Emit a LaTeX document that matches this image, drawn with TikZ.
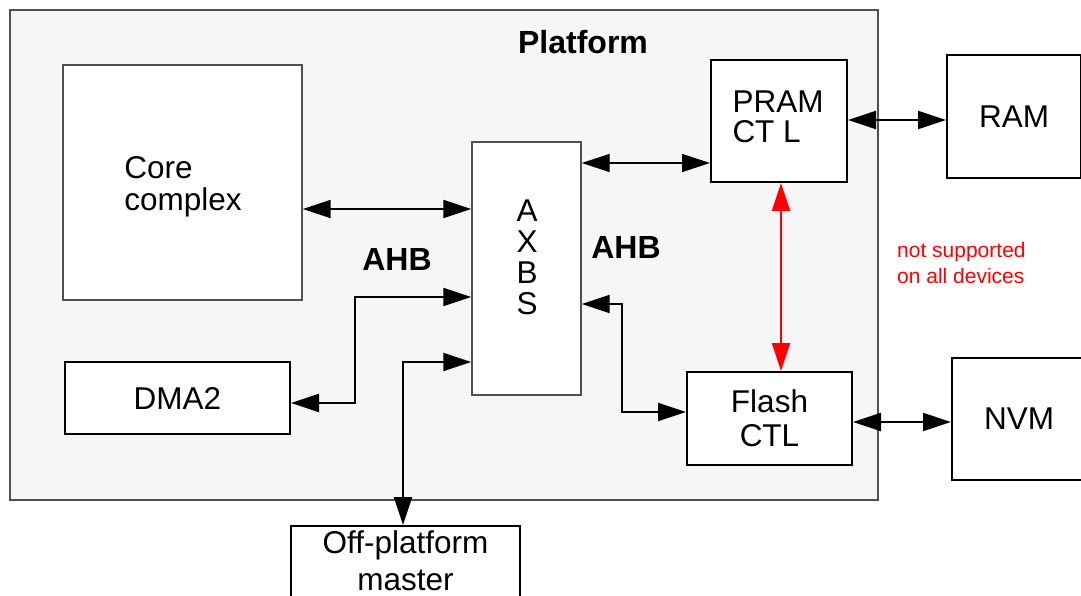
\documentclass[tikz,border=0pt]{standalone}
\usepackage{fontspec}
\setmainfont{Liberation Sans}
\usetikzlibrary{arrows.meta, positioning, calc}
\definecolor{ink}{HTML}{000000}
\definecolor{frame}{HTML}{505050}
\definecolor{platfill}{HTML}{F6F6F6}
\definecolor{warn}{HTML}{FF0000}

\begin{document}
\begin{tikzpicture}[x=1pt, y=-1pt,
    every node/.style={text=ink},
    blk/.style={draw=ink, line width=2pt, fill=white, inner sep=0pt, align=center,
        font=\fontsize{31.5}{32}\selectfont},
    txt/.style={inner sep=0pt, font=\fontsize{31.5}{31}\selectfont},
    ahb/.style={inner sep=0pt, font=\fontsize{32}{32}\selectfont\bfseries},
    bus/.style={{Triangle[length=28pt,width=18pt]}-{Triangle[length=28pt,width=18pt]},
        line width=2pt, ink},
    thinbus/.style={bus, line width=1.2pt},
    redbus/.style={bus, draw=warn, fill=warn}
]

% ---------------- canvas (1081 x 595), white ----------------
\useasboundingbox (0,0) rectangle (1081,595);
\fill[white] (0,0) rectangle (1081,595);

% ---------------- platform frame ----------------
\draw[draw=frame, fill=platfill, line width=1.5pt] (10,10) rectangle (878,500);
\node[ahb] (platname) at (583,42) {Platform};

% ================= blocks inside the platform =================
\node[blk, draw=frame, line width=1.4pt, minimum width=239, minimum height=235] (core) at (182.5,182.5) {};
\node[txt, align=left, font=\fontsize{31.5}{32}\selectfont] (corename) at (183,187) {Core\\complex};
\node[blk, draw=frame, line width=1.4pt, minimum width=109, minimum height=253] (axbs) at (526.5,268.5) {};
\node[txt, align=center] (axbsname) at (527,257) {A\\X\\B\\S};
\node[blk, minimum width=136, minimum height=122] (pram) at (779,121) {};
\node[txt, align=left, font=\fontsize{31.5}{30}\selectfont] (pramname) at (778,117) {PRAM\\CT L};
\node[blk, minimum width=165, minimum height=93, font=\fontsize{31.5}{34}\selectfont]
    (flash) at (769.5,418.5) {Flash\\CTL};
\node[blk, minimum width=225, minimum height=72] (dma) at (177.5,398) {DMA2};

\node[ahb] (ahbl) at (397,259) {AHB};
\node[ahb] (ahbr) at (626,247) {AHB};

% ================= blocks outside the platform =================
\node[blk, minimum width=134, minimum height=123] (ram) at (1014,116.5) {RAM};
\node[blk, minimum width=134, minimum height=122] (nvm) at (1019,419) {NVM};
\node[blk, anchor=north, minimum width=229, inner ysep=5pt, text depth=20pt] (off) at (405.5,525)
    {Off-platform\\[5pt]master};

\node[anchor=west, align=left, inner sep=0pt, text=warn, font=\fontsize{21}{26}\selectfont]
    (note) at (897,263) {not supported\\on all devices};

% ================= connectors =================
\draw[bus] (core.east |- 0,209) -- (axbs.west |- 0,209);
\draw[thinbus] (axbs.east |- 0,163) -- (pram.west |- 0,163);
\draw[bus] (pram.east |- 0,120) -- (ram.west |- 0,120);
\draw[redbus] (pram.south -| 781,0) -- (flash.north -| 781,0);
\draw[bus] (axbs.east |- 0,304) -- (622,304) -- (622,412) -- (flash.west |- 0,412);
\draw[bus] (flash.east |- 0,422) -- (nvm.west |- 0,422);
\draw[bus] (dma.east |- 0,403) -- (355,403) -- (355,297) -- (axbs.west |- 0,297);
\draw[bus] (axbs.west |- 0,362) -- (403,362) -- (off.north -| 403,0);

\end{tikzpicture}
\end{document}
